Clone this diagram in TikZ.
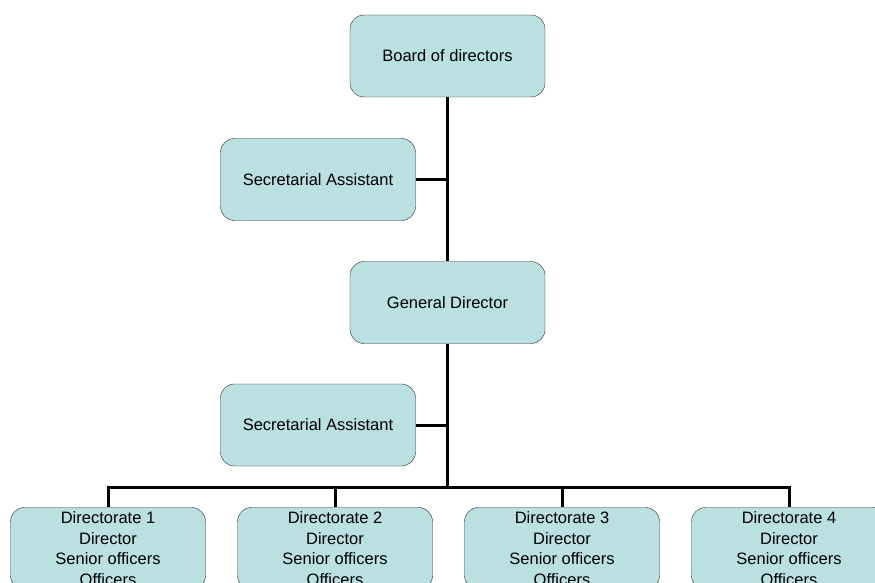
\documentclass[tikz,border=0pt]{standalone}
\usepackage{fontspec}
\setmainfont{Liberation Sans}
\usepackage{xcolor}
\usetikzlibrary{calc,positioning}
\definecolor{boxfill}{RGB}{186,224,226}
\definecolor{boxline}{RGB}{40,40,40}
\tikzset{%
	unit/.style = {draw=boxline, fill=boxfill, rectangle, rounded corners=14pt, minimum width=195pt, minimum height=82pt, text centered, align=center, font=\fontsize{16.5}{20.5}\selectfont},
	link/.style = {line width=3pt},
}
\begin{document}
\begin{tikzpicture}[x=1pt,y=-1pt]
		\useasboundingbox (0,0) rectangle (875,583);
		\clip (0,0) rectangle (875,583);
		\node[unit] (board) at (447.5,56) {Board of directors};
		\node[unit] (sec1) at (318,179.5) {Secretarial Assistant};
		\node[unit] (gd) at (447.5,302.5) {General Director};
		\node[unit] (sec2) at (318,425) {Secretarial Assistant};
		\coordinate (bus) at (447.5,487);
		\draw[link] (board) -- (gd);  % top trunk
		\draw[link] (sec1.east) -- (sec1.east -| board.south);
		\draw[link] (gd) -- (bus);  % lower trunk
		\draw[link] (sec2.east) -- (sec2.east -| gd.south);
		\foreach \n/\x in {1/108,2/335,3/562,4/789}{
			\node[unit] (dir\n) at (\x,548.5) {Directorate \n\\Director\\Senior officers\\Officers};
			\draw[link] (bus) -| (dir\n.north);
		}
		\end{tikzpicture}
\end{document}
